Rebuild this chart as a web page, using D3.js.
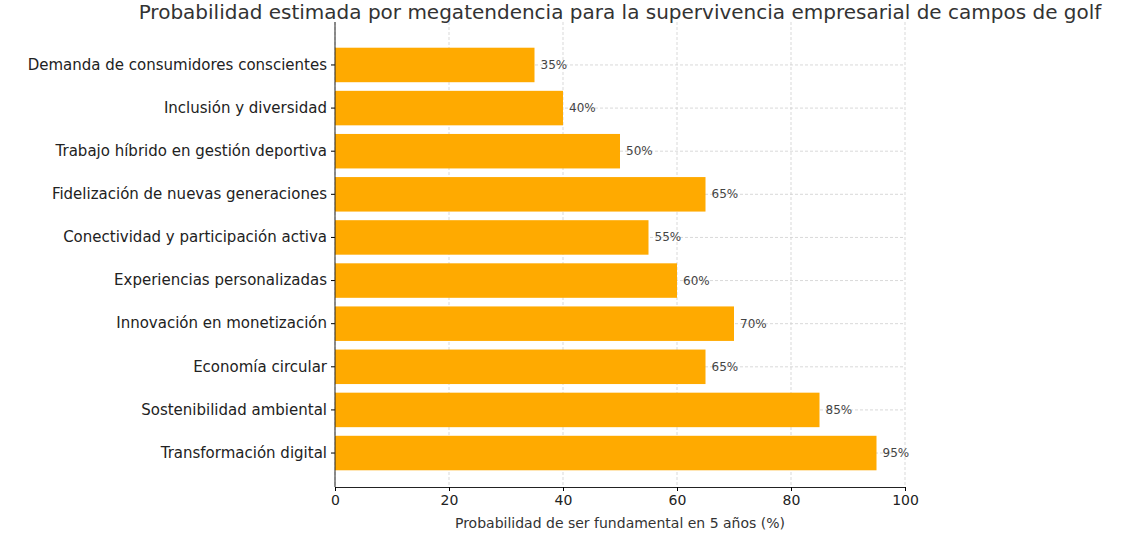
<!DOCTYPE html>
<html><head><meta charset="utf-8">
<script src="https://cdn.jsdelivr.net/npm/d3@7"></script>
<style>body{margin:0;background:#fff}text{font-family:"DejaVu Sans",sans-serif}</style>
</head><body>
<svg id="c" width="1122" height="560"></svg>
<script>
const categories = ["Demanda de consumidores conscientes","Inclusión y diversidad","Trabajo híbrido en gestión deportiva","Fidelización de nuevas generaciones","Conectividad y participación activa","Experiencias personalizadas","Innovación en monetización","Economía circular","Sostenibilidad ambiental","Transformación digital"];
const values = [35,40,50,65,55,60,70,65,85,95];
const xTicks = [0,20,40,60,80,100];
const title = "Probabilidad estimada por megatendencia para la supervivencia empresarial de campos de golf";
const xLabel = "Probabilidad de ser fundamental en 5 años (%)";

const svg = d3.select("#c");
const x = d3.scaleLinear().domain([0,100]).range([335,905]);
const y = d3.scaleBand().domain(categories).range([43.4,474.6]);
const plotTop=22,plotBottom=487;
svg.append("g").selectAll("line").data(xTicks).join("line")
 .attr("x1",d=>x(d)).attr("x2",d=>x(d)).attr("y1",plotTop).attr("y2",plotBottom)
 .attr("stroke","#cfcfcf").attr("stroke-dasharray","3,2").attr("stroke-width",0.8);
svg.append("g").selectAll("line").data(categories).join("line")
 .attr("x1",335).attr("x2",905).attr("y1",d=>y(d)+y.bandwidth()/2).attr("y2",d=>y(d)+y.bandwidth()/2)
 .attr("stroke","#cfcfcf").attr("stroke-dasharray","3,2").attr("stroke-width",0.8);
const bh=y.bandwidth()*0.8;
svg.append("g").selectAll("rect").data(categories).join("rect")
 .attr("x",x(0)).attr("y",d=>y(d)+(y.bandwidth()-bh)/2)
 .attr("width",(d,i)=>x(values[i])-x(0)).attr("height",bh).attr("fill","#FFAA00");
svg.append("g").selectAll("text").data(categories).join("text")
 .attr("x",(d,i)=>x(values[i])+6).attr("y",d=>y(d)+y.bandwidth()/2+4)
 .attr("font-size",12).attr("fill","#444").text((d,i)=>values[i]+"%");
const xa = svg.append("g").attr("transform",`translate(0,${plotBottom})`)
 .call(d3.axisBottom(x).tickValues(xTicks).tickSize(4).tickPadding(4));
xa.select(".domain").attr("stroke","#222");
xa.selectAll("text").attr("font-size",14).attr("fill","#222");
const ya = svg.append("g").attr("transform","translate(335,0)")
 .call(d3.axisLeft(y).tickSize(4).tickPadding(4));
ya.select(".domain").remove();
ya.selectAll("text").attr("font-size",15).attr("fill","#222");
svg.append("line").attr("x1",335).attr("x2",335).attr("y1",plotTop).attr("y2",plotBottom).attr("stroke","#222");
svg.append("text").attr("x",620).attr("y",528).attr("text-anchor","middle").attr("font-size",14).attr("fill","#333").text(xLabel);
svg.append("text").attr("x",620).attr("y",19).attr("text-anchor","middle").attr("font-size",20).attr("fill","#333").text(title);
</script>
</body></html>
